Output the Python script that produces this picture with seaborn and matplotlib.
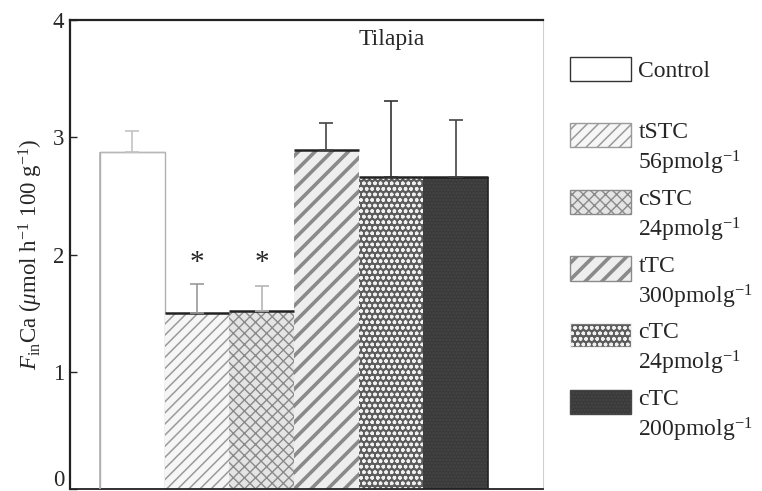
import matplotlib
matplotlib.use("Agg")
import matplotlib.pyplot as plt
import matplotlib.transforms as mtransforms
import seaborn as sns
import numpy as np
import pandas as pd
from matplotlib.patches import Patch, Rectangle
from matplotlib.legend_handler import HandlerPatch

# ---- data ----
groups = ["Control", "tSTC", "cSTC", "tTC", "cTC24", "cTC200"]
means = [2.87, 1.50, 1.52, 2.89, 2.66, 2.66]
err_up = [0.18, 0.25, 0.21, 0.23, 0.65, 0.49]
legend_labels = ["Control", "tSTC\n56pmolg$^{-1}$", "cSTC\n24pmolg$^{-1}$",
                 "tTC\n300pmolg$^{-1}$", "cTC\n24pmolg$^{-1}$", "cTC\n200pmolg$^{-1}$"]
signif = [False, True, True, False, False, False]
yticks = [0, 1, 2, 3, 4]

# ---- styles ----
faces = ["white", "#f6f6f6", "#e4e4e4", "#eeeeee", "#5c5c5c", "#3a3a3a"]
hatch_cols = ["#b0b0b0", "#9a9a9a", "#8a8a8a", "#8a8a8a", "#f0f0f0", "#474747"]
hatches = [None, "///", "xxx", "//", "ooo", "....."]
hatch_lws = [1.0, 1.1, 1.0, 2.6, 1.0, 1.0]
err_cols = ["#c4c4c4", "#999999", "#b5b5b5", "#444444", "#333333", "#444444"]

sns.set_theme(style="white")
plt.rcParams["font.family"] = ["Liberation Serif", "DejaVu Serif"]
plt.rcParams["mathtext.fontset"] = "custom"
plt.rcParams["mathtext.rm"] = "Liberation Serif"
plt.rcParams["mathtext.it"] = "Liberation Serif:italic"
plt.rcParams["mathtext.bf"] = "Liberation Serif:bold"
plt.rcParams["hatch.linewidth"] = 1.0

fig = plt.figure(figsize=(7.62, 4.91), dpi=100)
ax = fig.add_axes([70 / 762, 1 - 489 / 491, (543 - 70) / 762, (489 - 20) / 491])

df = pd.DataFrame({"group": groups, "value": means})
sns.barplot(data=df, x="group", y="value", hue="group", order=groups,
            palette=dict(zip(groups, faces)), width=1.0, legend=False,
            ax=ax, saturation=1, errorbar=None)


def style_patch(p, i):
    p.set_facecolor(faces[i])
    p.set_edgecolor(hatch_cols[i])
    if hatches[i]:
        p.set_hatch(hatches[i])
        p.set_linewidth(0.0)
        if hasattr(p, "set_hatch_linewidth"):
            p.set_hatch_linewidth(hatch_lws[i])
    else:
        p.set_linewidth(1.0)


for i, p in enumerate(ax.patches):
    style_patch(p, i)

xs = np.arange(len(groups))
for i, (x, m) in enumerate(zip(xs, means)):
    col = "#b8b8b8" if i == 0 else "#222222"
    ax.hlines(m, x - 0.5, x + 0.5, color=col, lw=1.0 if i == 0 else 1.8, zorder=5)
ax.vlines(xs[0] - 0.5, 0, means[0], color="#b0b0b0", lw=1.2, zorder=5)
ax.vlines(xs[-1] + 0.5, 0, means[-1], color="#222222", lw=1.2, zorder=5)

for x, m, e, c in zip(xs, means, err_up, err_cols):
    ax.errorbar(x, m, yerr=[[0], [e]], fmt="none", ecolor=c, elinewidth=1.2,
                capsize=5, capthick=1.2, zorder=6)

for x, s in zip(xs, signif):
    if s:
        ax.text(x, 1.93, "*", ha="center", va="center", fontsize=21)

ax.set_xlim(-0.964, 6.35)
ax.set_ylim(0, 4)
ax.set_yticks(yticks)
ax.set_yticklabels([str(t) for t in yticks], fontsize=16.5)
ax.set_xticks([])
ax.set_xlabel("")
ax.set_ylabel(r"$F_{\rm in}$Ca ($\mu$mol h$^{-1}$ 100 g$^{-1}$)", fontsize=16.5, labelpad=6)
ax.tick_params(axis="y", direction="in", length=5, width=1, left=True, pad=4)
# keep the "0" label inside the canvas
lbl0 = ax.get_yticklabels()[0]
lbl0.set_transform(lbl0.get_transform() + mtransforms.ScaledTranslation(0, 11 / 100, fig.dpi_scale_trans))

for s in ["left", "top", "bottom"]:
    ax.spines[s].set_color("#222222")
    ax.spines[s].set_linewidth(1.6)
ax.spines["bottom"].set_linewidth(1.3)
ax.spines["right"].set_color("#d0d0d0")
ax.spines["right"].set_linewidth(0.8)

ax.text(392 / 762, 1 - 40 / 491, "Tilapia", transform=fig.transFigure,
        ha="center", va="center", fontsize=17)

# legend
handles = []
for i in range(len(groups)):
    hp = Patch(facecolor=faces[i],
               edgecolor=hatch_cols[i] if hatches[i] else "#333333",
               hatch=hatches[i], linewidth=1.0)
    handles.append(hp)


def make_handler(off):
    def make_rect(legend, orig_handle, xdescent, ydescent, width, height, fontsize):
        r = Rectangle((-xdescent, -ydescent + off * fontsize), width, height)
        return r
    return HandlerPatch(patch_func=make_rect)


common = dict(loc="upper left", bbox_transform=fig.transFigure, frameon=False,
              fontsize=17, handlelength=2.6, handleheight=1.2, handletextpad=0.3,
              borderaxespad=0, borderpad=0)

leg1 = ax.legend(handles[:1], legend_labels[:1], bbox_to_anchor=(570 / 762, 1 - 57 / 491),
                 handler_map={Patch: make_handler(0.0)}, **common)
ax.add_artist(leg1)
leg2 = ax.legend(handles[1:], legend_labels[1:], bbox_to_anchor=(570 / 762, 1 - 122 / 491),
                 labelspacing=0.5, handler_map={Patch: make_handler(0.62)}, **common)
for t in leg2.get_texts():
    t.set_linespacing(1.28)
for leg, offset in ((leg1, 0), (leg2, 1)):
    for i, h in enumerate(leg.legend_handles):
        if hasattr(h, "set_hatch_linewidth"):
            h.set_hatch_linewidth(hatch_lws[i + offset])

fig.savefig("out.png", dpi=100)
